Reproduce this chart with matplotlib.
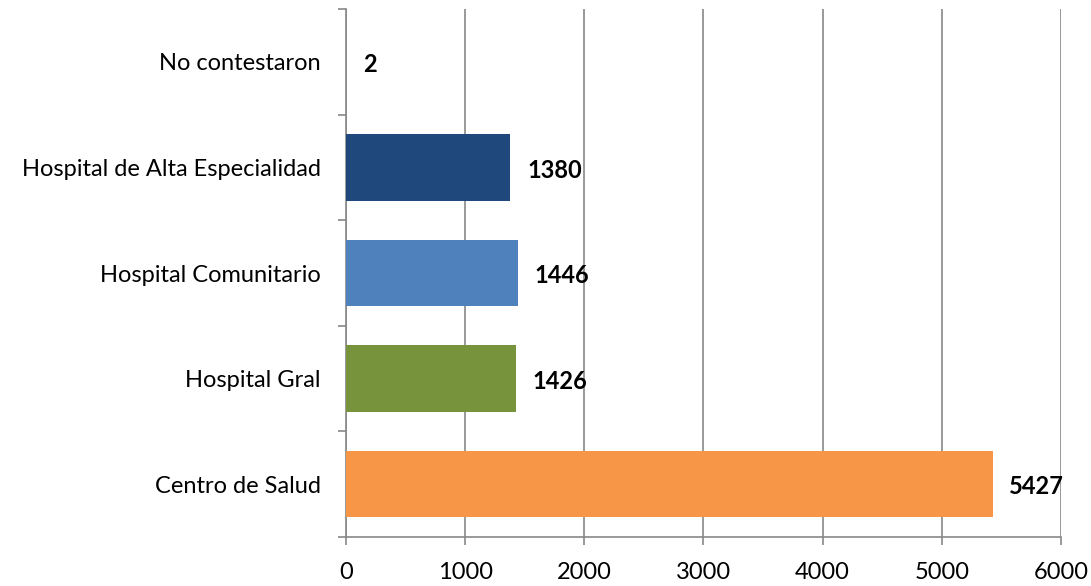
import matplotlib.pyplot as plt
import numpy as np

categorias = ["Centro de Salud", "Hospital Gral", "Hospital Comunitario",
              "Hospital de Alta Especialidad", "No contestaron"]
valores = [5427, 1426, 1446, 1380, 2]
colores = ["#F79646", "#77933C", "#4F81BD", "#1F497D", "#1F497D"]

plt.rcParams['font.family'] = ['Lato', 'DejaVu Sans']

fig = plt.figure(figsize=(10.91, 5.86), dpi=100)
ax = fig.add_axes([0.3171, 0.0836, 0.6554, 0.9010])

y = np.arange(len(categorias))
ax.barh(y, valores, height=0.63, color=colores, zorder=3)

# etiquetas de valor a la derecha de cada barra
for yi, v in zip(y, valores):
    ax.annotate(str(v), (v, yi), xytext=(12, -2), textcoords='offset points',
                va='center', ha='left', fontsize=17, fontweight='bold', zorder=4)

ax.set_xlim(0, 6000)
ax.set_ylim(-0.5, len(categorias) - 0.5)
ax.set_xticks(np.arange(0, 6001, 1000))
ax.set_yticks(y)
ax.set_yticklabels(categorias)
ax.set_yticks(np.arange(-0.5, len(categorias)), minor=True)

ax.grid(axis='x', color='#888888', linewidth=1.2, zorder=0)
for s in ['top', 'right']:
    ax.spines[s].set_visible(False)
for s in ['left', 'bottom']:
    ax.spines[s].set_color('#888888')
    ax.spines[s].set_linewidth(1.2)

ax.tick_params(axis='x', length=6, width=1.2, color='#888888', pad=12, labelsize=17)
ax.tick_params(axis='y', which='major', length=0, pad=18, labelsize=17)
ax.tick_params(axis='y', which='minor', length=6, width=1.2, color='#888888')

fig.savefig('out.png', dpi=100)
